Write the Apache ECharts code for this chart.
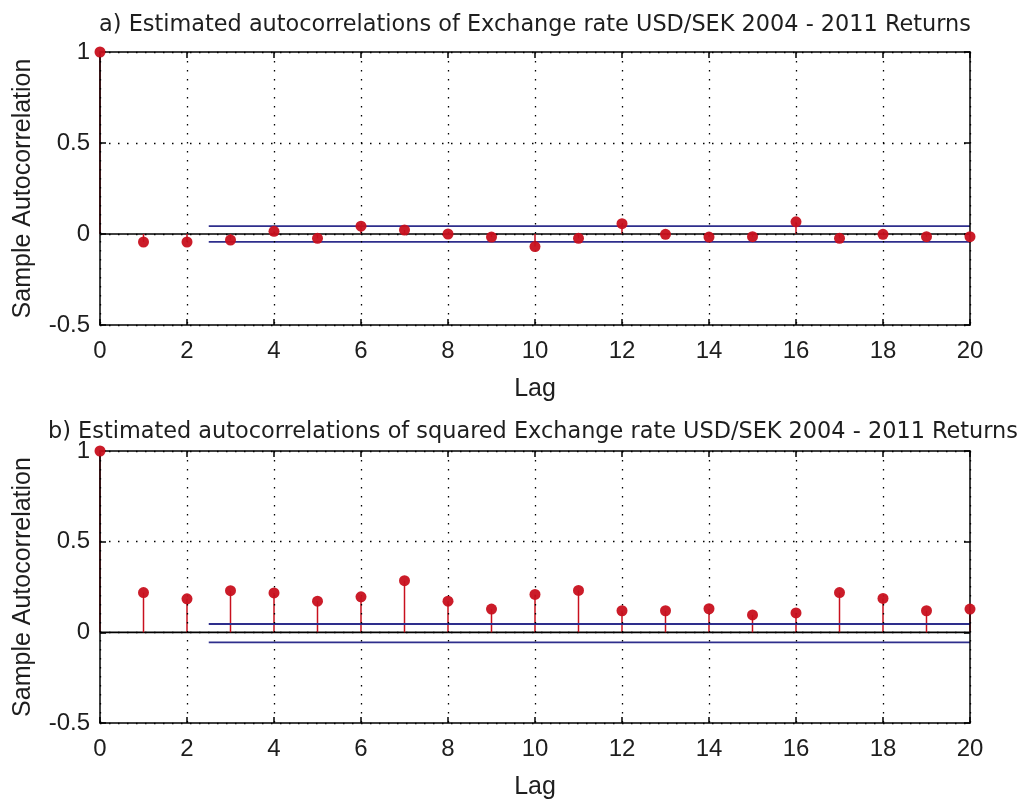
<!DOCTYPE html>
<html>
<head>
<meta charset="utf-8">
<script src="https://cdn.jsdelivr.net/npm/echarts@6/dist/echarts.min.js"></script>
<style>
html,body{margin:0;padding:0;background:#fff;}
#chart{width:1021px;height:804px;}
</style>
</head>
<body>
<div id="chart"></div>
<script>
// ---- data ----
const lags = [0,1,2,3,4,5,6,7,8,9,10,11,12,13,14,15,16,17,18,19,20];
const acfReturns = [1, -0.044, -0.044, -0.033, 0.015, -0.024, 0.043, 0.022, 0.0, -0.017, -0.069, -0.024, 0.057, -0.002, -0.017, -0.015, 0.067, -0.024, -0.002, -0.015, -0.015];
const acfSquared = [1, 0.219, 0.185, 0.230, 0.217, 0.172, 0.196, 0.285, 0.172, 0.128, 0.209, 0.231, 0.119, 0.119, 0.130, 0.096, 0.107, 0.219, 0.187, 0.119, 0.128];
const boundsReturns = [0.0435, -0.0435];
const boundsSquared = [0.046, -0.055];
const boundLagRange = [2.5, 20];
const xTickInfo = {min: 0, max: 20, interval: 2};
const yTickInfo = {min: -0.5, max: 1, interval: 0.5};
const titles = [
  'a) Estimated autocorrelations of Exchange rate USD/SEK 2004 - 2011 Returns',
  'b) Estimated autocorrelations of squared Exchange rate USD/SEK 2004 - 2011 Returns'
];
const xName = 'Lag';
const yName = 'Sample Autocorrelation';

// ---- styles ----
const TFONT = 'DejaVu Sans';
const FONT = 'Liberation Sans';
const TXT = '#1e1e1e';
const RED = '#c8101e';
const BLUE = '#2e2e8c';
const grids = [
  {left: 100, width: 870, top: 52, height: 273},
  {left: 100, width: 870, top: 451, height: 272}
];

const dotted = {show: true, lineStyle: {color: '#000', width: 1.3, type: [1.5, 7.5]}};
const xAxes = [], yAxes = [], series = [];
const acfs = [acfReturns, acfSquared];
const bounds = [boundsReturns, boundsSquared];
const AXZ = 6;

grids.forEach((g, i) => {
  xAxes.push({
    type: 'value', gridIndex: i, min: xTickInfo.min, max: xTickInfo.max, interval: xTickInfo.interval, z: AXZ,
    name: xName, nameLocation: 'middle', nameGap: 52,
    nameTextStyle: {fontFamily: FONT, fontSize: 25, color: TXT},
    axisLine: {show: true, onZero: false, lineStyle: {color: '#000', width: 1.5}},
    axisTick: {show: true, inside: true, length: 6, lineStyle: {color: '#000', width: 1.5}},
    axisLabel: {fontFamily: FONT, fontSize: 24, color: TXT, margin: 14},
    splitLine: dotted
  });
  xAxes.push({
    type: 'value', gridIndex: i, position: 'top', min: xTickInfo.min, max: xTickInfo.max, interval: xTickInfo.interval, z: AXZ,
    axisLine: {show: true, onZero: false, lineStyle: {color: '#000', width: 1.5}},
    axisTick: {show: true, inside: true, length: 6, lineStyle: {color: '#000', width: 1.5}},
    axisLabel: {show: false}, splitLine: {show: false}
  });
  yAxes.push({
    type: 'value', gridIndex: i, min: yTickInfo.min, max: yTickInfo.max, interval: yTickInfo.interval, z: AXZ,
    name: yName, nameLocation: 'middle', nameGap: 64,
    nameTextStyle: {fontFamily: FONT, fontSize: 25, color: TXT},
    axisLine: {show: true, onZero: false, lineStyle: {color: '#000', width: 1.5}},
    axisTick: {show: true, inside: true, length: 6, lineStyle: {color: '#000', width: 1.5}},
    axisLabel: {fontFamily: FONT, fontSize: 24, color: TXT, margin: 10},
    splitLine: dotted
  });
  yAxes.push({
    type: 'value', gridIndex: i, position: 'right', min: yTickInfo.min, max: yTickInfo.max, interval: yTickInfo.interval, z: AXZ,
    axisLine: {show: true, onZero: false, lineStyle: {color: '#000', width: 1.5}},
    axisTick: {show: true, inside: true, length: 6, lineStyle: {color: '#000', width: 1.5}},
    axisLabel: {show: false}, splitLine: {show: false}
  });
  const xi = i * 2, yi = i * 2;
  const pts = lags.map((l, k) => [l, acfs[i][k]]);
  // stems
  series.push({
    type: 'custom', xAxisIndex: xi, yAxisIndex: yi, data: pts, z: 3, clip: false,
    renderItem: function (params, api) {
      const x = api.value(0), y = api.value(1);
      const p0 = api.coord([x, 0]), p1 = api.coord([x, y]);
      return {type: 'line', shape: {x1: p0[0], y1: p0[1], x2: p1[0], y2: p1[1]},
        style: {stroke: RED, lineWidth: 1.5}};
    }
  });
  // zero line
  series.push({
    type: 'line', xAxisIndex: xi, yAxisIndex: yi, data: [[xTickInfo.min, 0], [xTickInfo.max, 0]],
    symbol: 'none', lineStyle: {color: '#000', width: 1.6}, z: 2, silent: true
  });
  // confidence bounds
  bounds[i].forEach(b => {
    series.push({
      type: 'line', xAxisIndex: xi, yAxisIndex: yi, data: [[boundLagRange[0], b], [boundLagRange[1], b]],
      symbol: 'none', lineStyle: {color: BLUE, width: 1.8}, z: 4, silent: true
    });
  });
  // markers
  series.push({
    type: 'scatter', xAxisIndex: xi, yAxisIndex: yi, data: pts, symbol: 'circle', symbolSize: 11,
    itemStyle: {color: RED, opacity: 0.95}, z: 8, clip: false
  });
});

const chart = echarts.init(document.getElementById('chart'), null, {renderer: 'canvas'});
chart.setOption({
  backgroundColor: '#fff',
  animation: false,
  title: [
    {text: titles[0], left: 530, top: 9, textAlign: 'center',
      textStyle: {fontFamily: TFONT, fontSize: 22.4, fontWeight: 'normal', color: TXT}},
    {text: titles[1], left: 528, top: 416, textAlign: 'center',
      textStyle: {fontFamily: TFONT, fontSize: 22.4, fontWeight: 'normal', color: TXT}}
  ],
  grid: grids,
  xAxis: xAxes,
  yAxis: yAxes,
  series: series
});
</script>
</body>
</html>
